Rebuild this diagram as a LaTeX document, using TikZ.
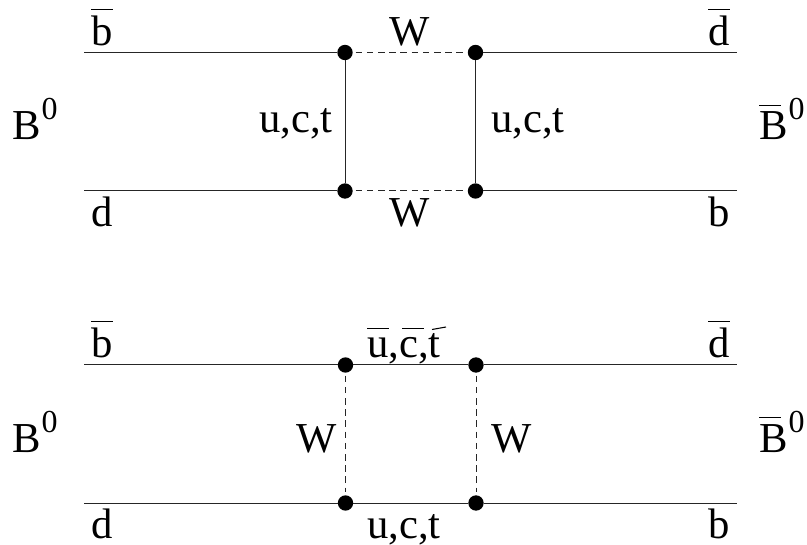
\documentclass[tikz,border=0pt]{standalone}
\usepackage{fontspec}
\setmainfont{Liberation Serif}
\tikzset{
 lbl/.style={inner sep=0pt,anchor=base west,font=\fontsize{32}{36}\selectfont,text=black},
 vtx/.style={circle,fill=black,draw=none,minimum size=11.5pt,inner sep=0pt},
 fer/.style={line width=0.75pt,black!85},
 bos/.style={line width=0.75pt,black!85,dash pattern=on 5pt off 3.4pt,shorten >=2pt,shorten <=2pt},
}
% offset, raise, width, text
\newcommand{\obx}[4]{\rlap{\hspace{#1}\rule[#2]{#3}{0.8pt}}#4}
\newcommand{\supz}{\raisebox{15pt}{\fontsize{24}{28}\selectfont\hspace{0.6pt}0}}
\begin{document}
\begin{tikzpicture}[x=0.75pt,y=-0.75pt]
\useasboundingbox (0,0) rectangle (807,545);
\coordinate (l1) at (84,52.5); \coordinate (r1) at (737,52.5);
\coordinate (l2) at (84,191); \coordinate (r2) at (737,191);
\coordinate (l3) at (84,365); \coordinate (r3) at (737,365);
\coordinate (l4) at (84,503); \coordinate (r4) at (737,503);
\coordinate (tb1) at (432,329.5); \coordinate (tb2) at (446,327);
\node[vtx] (a) at (345,52.5) {}; \node[vtx] (b) at (475.5,52.5) {};
\node[vtx] (c) at (345,191) {}; \node[vtx] (d) at (475.5,191) {};
\node[vtx] (e) at (345.5,365) {}; \node[vtx] (f) at (476,365) {};
\node[vtx] (g) at (345.5,503) {}; \node[vtx] (h) at (476,503) {};
\draw[fer] (l1)--(a) (b)--(r1) (l2)--(c) (d)--(r2) (a)--(c) (b)--(d);
\draw[bos] (a)--(b); \draw[bos] (c)--(d);
\draw[fer] (l3)--(e) (e)--(f) (f)--(r3) (l4)--(g) (g)--(h) (h)--(r4);
\draw[bos] (e)--(g); \draw[bos] (f)--(h);
\draw[line width=0.8pt] (tb1)--(tb2);
\node[lbl] (t1) at (91,46) {\obx{0pt}{27pt}{16.5pt}{b}};
\node[lbl] (t2) at (389,46) {W};
\node[lbl] (t3) at (708,46) {\obx{0pt}{27pt}{16.5pt}{d}};
\node[lbl] (t4) at (259,133) {u,c,t};
\node[lbl] (t5) at (491,133) {u,c,t};
\node[lbl] (t6) at (12,140) {B\supz};
\node[lbl] (t7) at (759,140) {\obx{0pt}{25.5pt}{16pt}{B}\supz};
\node[lbl] (t8) at (91,227) {d};
\node[lbl] (t9) at (389,227) {W};
\node[lbl] (t10) at (708,227) {b};
\node[lbl] (s1) at (91,358) {\obx{0pt}{27pt}{16.5pt}{b}};
\node[lbl] (s2) at (367,358) {\obx{0pt}{21.7pt}{16.5pt}{u},\obx{2.2pt}{21.7pt}{16.5pt}{c},t};
\node[lbl] (s3) at (708,358) {\obx{0pt}{27pt}{16.5pt}{d}};
\node[lbl] (s4) at (296,452.5) {W};
\node[lbl] (s5) at (491,452.5) {W};
\node[lbl] (s6) at (12,452) {B\supz};
\node[lbl] (s7) at (759,452) {\obx{0pt}{25.5pt}{16pt}{B}\supz};
\node[lbl] (s8) at (91,538) {d};
\node[lbl] (s9) at (367,538) {u,c,t};
\node[lbl] (s10) at (708,538) {b};
\end{tikzpicture}
\end{document}
